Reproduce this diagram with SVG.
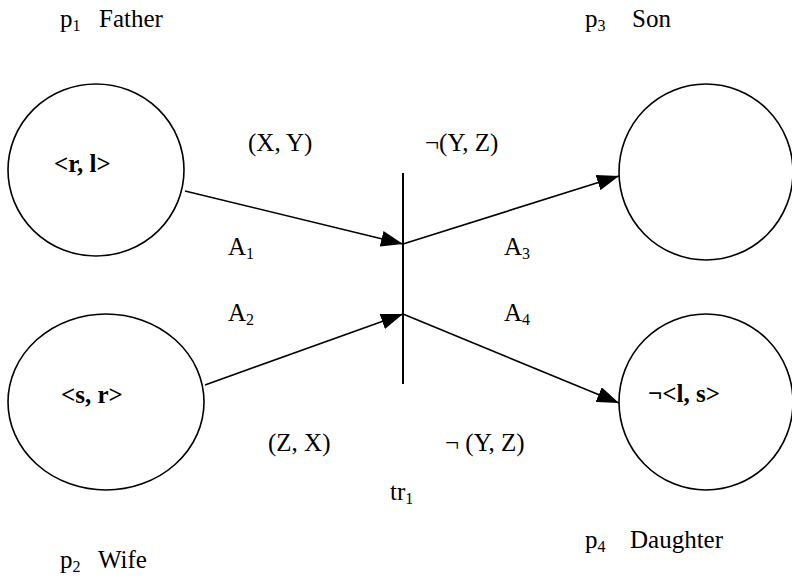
<svg xmlns="http://www.w3.org/2000/svg" width="792" height="579" viewBox="0 0 792 579">
<defs>
<marker id="arr" viewBox="0 0 22 16" refX="22" refY="8" markerWidth="22" markerHeight="16" markerUnits="userSpaceOnUse" orient="auto">
<path d="M0,0 L22,8 L0,16 Z" fill="#000"/>
</marker>
</defs>
<style>
text{font-family:"Liberation Serif","Times New Roman",serif;font-size:25px;fill:#000}
.b{font-weight:bold}
.sub{font-size:16px}
.place{fill:#fff;stroke:#000;stroke-width:1.6}
.arc{stroke:#000;stroke-width:1.6;fill:none;marker-end:url(#arr)}
</style>
<rect width="792" height="579" fill="#fff"/>
<g id="p1">
<ellipse class="place" cx="96" cy="170" rx="88" ry="86"/>
<text class="b" x="54" y="172">&lt;r, l&gt;</text>
<text x="60" y="27">p<tspan class="sub" dy="4">1</tspan></text>
<text x="99" y="27">Father</text>
</g>
<g id="p2">
<ellipse class="place" cx="106" cy="402" rx="98" ry="88"/>
<text class="b" x="61" y="403">&lt;s, r&gt;</text>
<text x="60" y="568">p<tspan class="sub" dy="4">2</tspan></text>
<text x="98" y="568">Wife</text>
</g>
<g id="p3">
<ellipse class="place" cx="706" cy="172" rx="87" ry="88"/>
<text x="585" y="27">p<tspan class="sub" dy="4">3</tspan></text>
<text x="632" y="27">Son</text>
</g>
<g id="p4">
<ellipse class="place" cx="706" cy="402" rx="87" ry="88"/>
<text class="b" x="648" y="402">¬&lt;l, s&gt;</text>
<text x="585" y="548">p<tspan class="sub" dy="4">4</tspan></text>
<text x="630" y="548">Daughter</text>
</g>
<g id="tr1">
<line x1="403" y1="173" x2="403" y2="384" stroke="#000" stroke-width="2"/>
<text x="390" y="500">tr<tspan class="sub" dy="4">1</tspan></text>
</g>
<g id="connectors">
<line class="arc" x1="185" y1="191" x2="403" y2="244"/>
<line class="arc" x1="205" y1="385" x2="403" y2="314"/>
<line class="arc" x1="403" y1="244" x2="619" y2="176"/>
<line class="arc" x1="403" y1="314" x2="619" y2="403"/>
</g>
<g id="labels">
<text x="248" y="151">(X, Y)</text>
<text x="425" y="151">¬(Y, Z)</text>
<text x="228" y="255">A<tspan class="sub" dy="4">1</tspan></text>
<text x="228" y="321">A<tspan class="sub" dy="4">2</tspan></text>
<text x="504" y="255">A<tspan class="sub" dy="4">3</tspan></text>
<text x="504" y="321">A<tspan class="sub" dy="4">4</tspan></text>
<text x="268" y="451">(Z, X)</text>
<text x="445" y="451">¬ (Y, Z)</text>
</g>
</svg>
